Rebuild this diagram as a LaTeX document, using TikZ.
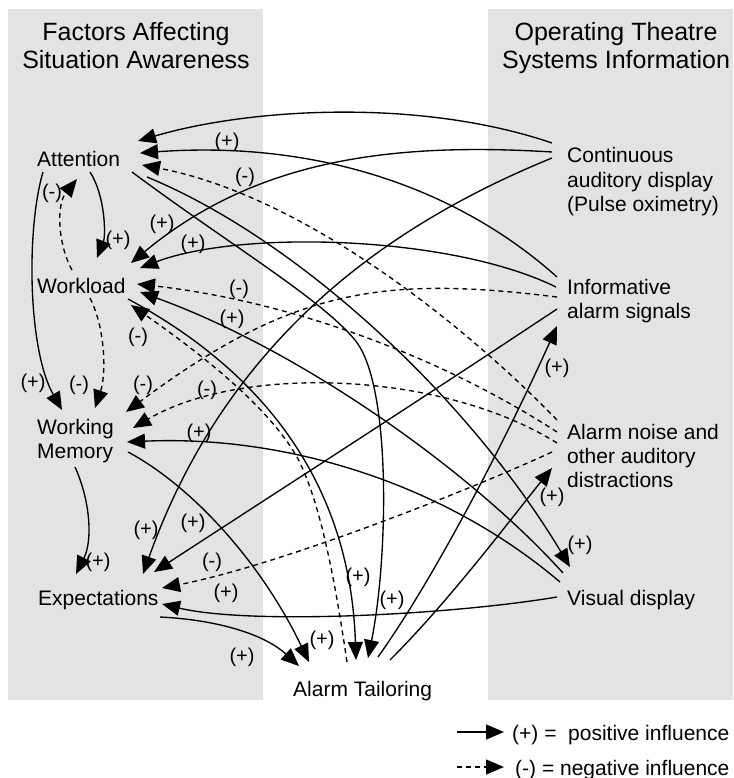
\documentclass[tikz,border=0pt]{standalone}
\usepackage{fontspec}
\setmainfont{Liberation Sans}
\usetikzlibrary{arrows.meta}
\definecolor{panel}{RGB}{227,227,227}
\begin{document}
\begin{tikzpicture}[x=1pt,y=-1pt,
  concept/.style={font=\fontsize{21}{24}\selectfont, inner sep=0pt, align=left, anchor=base west},
  heading/.style={font=\fontsize{25}{28.5}\selectfont, inner sep=0pt, align=center, anchor=base},
  lab/.style={font=\fontsize{20}{22}\selectfont, inner sep=0pt},
  legendtext/.style={font=\fontsize{21}{24}\selectfont, inner sep=0pt, anchor=base west},
  plusedge/.style={line width=1.35pt, -{Triangle[length=18pt,width=15pt]}},
  minusedge/.style={plusedge, dash pattern=on 5pt off 4pt}]
\useasboundingbox (0,0) rectangle (733,778);

% shaded columns
\fill[panel] (8,9) rectangle (263,700);
\fill[panel] (488,9) rectangle (733,700);

% column headings
\node[heading] (hl) at (136,69) {Factors Affecting\\Situation Awareness};
\node[heading] (hr) at (616,69) {Operating Theatre\\Systems Information};

% concepts
\node[concept] (att) at (37,167) {Attention};
\node[concept] (wl)  at (37,293) {Workload};
\node[concept] (wm)  at (37,458) {Working\\Memory};
\node[concept] (exp) at (38,605) {Expectations};
\node[concept] (at)  at (293,696) {Alarm Tailoring};
\node[concept] (cad) at (567,211) {Continuous\\auditory display\\(Pulse oximetry)};
\node[concept] (ias) at (567,318) {Informative\\alarm signals};
\node[concept] (ano) at (567,487) {Alarm noise and\\other auditory\\distractions};
\node[concept] (vis) at (567,605) {Visual display};

% connector ports
\coordinate (attC) at (138,141);  \coordinate (attI) at (140,153);
\coordinate (attN) at (142,165);  \coordinate (attWd) at (77,179);
\coordinate (attW) at (90,172);   \coordinate (attM) at (43,172);
\coordinate (attT) at (132,172);  \coordinate (attV) at (147,177);

\coordinate (wlC) at (131,263);   \coordinate (wlI) at (140,268);
\coordinate (wlN) at (137,284);   \coordinate (wlV) at (140,292);
\coordinate (wlT) at (131,305);   \coordinate (wlA) at (97,258);
\coordinate (wlAs) at (72,270);   \coordinate (wlMs) at (90,298);
\coordinate (wlTs) at (128,299);

\coordinate (wmA) at (62,410);    \coordinate (wmW) at (95,408);
\coordinate (wmI) at (126,412);   \coordinate (wmN) at (133,428);
\coordinate (wmV) at (127,442);   \coordinate (wmE) at (75,467);
\coordinate (wmT) at (128,452);

\coordinate (expM) at (76,574);   \coordinate (expC) at (143,574);
\coordinate (expI) at (154,572);  \coordinate (expN) at (162,588);
\coordinate (expV) at (162,604);  \coordinate (expT) at (160,617);

\coordinate (atE) at (299,666);   \coordinate (atM) at (309,662);
\coordinate (atW) at (356,660);   \coordinate (atA) at (368,658);
\coordinate (atWs) at (347,662);  \coordinate (atI) at (378,657);
\coordinate (atN) at (390,660);

\coordinate (cadA) at (552,143);  \coordinate (cadW) at (552,152);
\coordinate (cadE) at (552,158);

\coordinate (iasA) at (557,277);  \coordinate (iasW) at (556,287);
\coordinate (iasM) at (557,297);  \coordinate (iasE) at (557,309);
\coordinate (iasT) at (557,326);

\coordinate (anoA) at (557,420);  \coordinate (anoW) at (557,432);
\coordinate (anoM) at (557,443);  \coordinate (anoE) at (552,452);
\coordinate (anoT) at (552,468);

\coordinate (visW) at (563,573);  \coordinate (visM) at (560,582);
\coordinate (visE) at (557,597);  \coordinate (visA) at (570,567);

% continuous auditory display
\draw[plusedge] (cadA) .. controls (420,98) and (250,108) .. (attC);
\draw[plusedge] (cadW) .. controls (390,142) and (255,160) .. (wlC);
\draw[plusedge] (cadE) .. controls (400,220) and (230,330) .. (expC);

% informative alarm signals
\draw[plusedge] (iasA) .. controls (460,190) and (320,140) .. (attI);
\draw[plusedge] (iasW) .. controls (450,235) and (240,230) .. (wlI);
\draw[minusedge] (iasM) .. controls (380,275) and (290,290) .. (wmI);
\draw[plusedge] (iasE) .. controls (420,400) and (280,490) .. (expI);

% alarm noise
\draw[minusedge] (anoA) .. controls (460,320) and (300,195) .. (attN);
\draw[minusedge] (anoW) .. controls (430,350) and (280,300) .. (wlN);
\draw[minusedge] (anoM) .. controls (440,370) and (240,365) .. (wmN);
\draw[minusedge] (anoE) .. controls (470,490) and (280,565) .. (expN);

% visual display
\draw[plusedge] (visW) .. controls (470,470) and (300,350) .. (wlV);
\draw[plusedge] (visM) .. controls (440,480) and (280,435) .. (wmV);
\draw[plusedge] (visE) .. controls (450,615) and (250,625) .. (expV);

% attention
\draw[plusedge] (attW) .. controls (105,195) and (106,235) .. (wlA);
\draw[plusedge] (attM) .. controls (26,230) and (28,350) .. (wmA);
\draw[plusedge] (attT) .. controls (230,245) and (320,298) .. (355,340)
                  .. controls (392,385) and (388,560) .. (atA);
\draw[plusedge] (attV) .. controls (300,240) and (470,400) .. (visA);

% workload
\draw[minusedge] (wlAs) .. controls (58,245) and (56,205) .. (attWd);
\draw[minusedge] (wlMs) .. controls (106,330) and (106,375) .. (wmW);
\draw[plusedge] (wlTs) .. controls (260,370) and (350,480) .. (atW);

% working memory and expectations
\draw[plusedge] (wmE) .. controls (90,500) and (93,540) .. (expM);
\draw[plusedge] (wmT) .. controls (190,485) and (260,560) .. (atM);
\draw[plusedge] (expT) .. controls (220,620) and (265,635) .. (atE);

% alarm tailoring
\draw[minusedge] (atWs) .. controls (335,580) and (320,500) .. (297,457)
                  .. controls (270,410) and (210,360) .. (wlT);
\draw[plusedge] (atI) .. controls (440,570) and (515,420) .. (iasT);
\draw[plusedge] (atN) .. controls (450,600) and (510,520) .. (anoT);

% influence signs
\node[lab] (s1)  at (227,142) {(+)};
\node[lab] (s2)  at (245,177) {(-)};
\node[lab] (s3)  at (52,193)  {(-)};
\node[lab] (s4)  at (162,224) {(+)};
\node[lab] (s5)  at (118,240) {(+)};
\node[lab] (s6)  at (193,244) {(+)};
\node[lab] (s7)  at (239,289) {(-)};
\node[lab] (s8)  at (232,319) {(+)};
\node[lab] (s9)  at (138,337) {(-)};
\node[lab] (s10) at (33,383)  {(+)};
\node[lab] (s11) at (79,385)  {(-)};
\node[lab] (s12) at (143,385) {(-)};
\node[lab] (s13) at (207,390) {(-)};
\node[lab] (s14) at (199,433) {(+)};
\node[lab] (s15) at (557,368) {(+)};
\node[lab] (s16) at (552,497) {(+)};
\node[lab] (s17) at (580,545) {(+)};
\node[lab] (s18) at (146,530) {(+)};
\node[lab] (s19) at (193,523) {(+)};
\node[lab] (s20) at (98,562)  {(+)};
\node[lab] (s21) at (212,562) {(-)};
\node[lab] (s22) at (226,593) {(+)};
\node[lab] (s23) at (242,657) {(+)};
\node[lab] (s24) at (322,640) {(+)};
\node[lab] (s25) at (358,577) {(+)};
\node[lab] (s26) at (392,600) {(+)};

% legend
\coordinate (lgpa) at (457,732); \coordinate (lgpb) at (504,732);
\coordinate (lgna) at (457,767); \coordinate (lgnb) at (504,767);
\draw[plusedge] (lgpa) -- (lgpb);
\draw[minusedge] (lgna) -- (lgnb);
\node[legendtext] (lgp) at (512,740) {(+) =\ \ positive influence};
\node[legendtext] (lgn) at (515,775) {(-) = negative influence};
\end{tikzpicture}
\end{document}
